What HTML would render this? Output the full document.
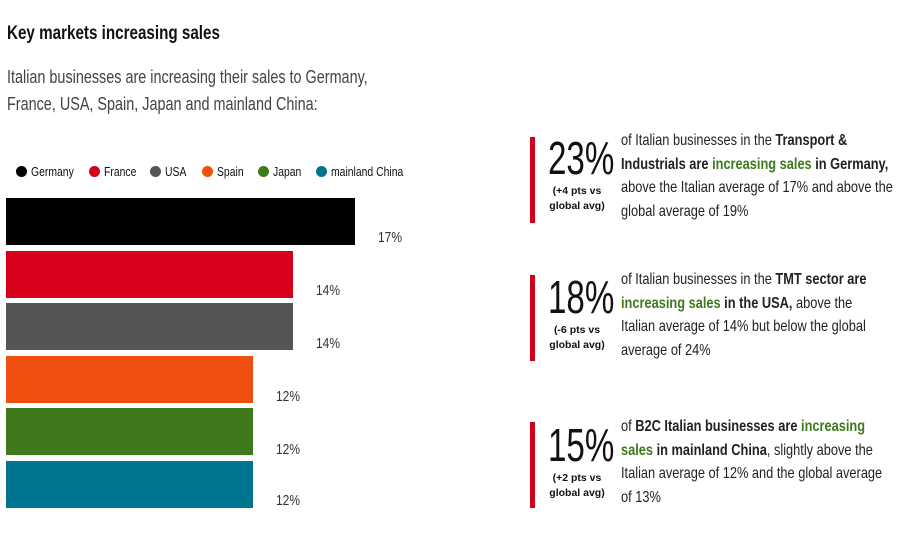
<!DOCTYPE html><html><head><style>
body{margin:0;width:900px;height:540px;background:#fff;font-family:"Liberation Sans",sans-serif;color:#111;position:relative;overflow:hidden}
.a{position:absolute;white-space:nowrap;transform:scaleX(0.8);transform-origin:0 0}
.bar{position:absolute;left:6px;height:47px}
.lab{position:absolute;font-size:15px;color:#333;transform:scaleX(0.8);transform-origin:0 0}
.dot{position:absolute;top:166px;width:11px;height:11px;border-radius:50%}
.lt{position:absolute;top:164px;font-size:13px;white-space:nowrap;transform:scaleX(0.8);transform-origin:0 0}
.rb{position:absolute;left:530px;width:5px;height:86px;background:#d0021b}
.big{position:absolute;left:548px;font-size:46px;line-height:46px;transform:scaleX(0.72);transform-origin:0 0;white-space:nowrap}
.sm{position:absolute;left:547px;width:60px;text-align:center;font-size:10.5px;font-weight:bold;line-height:15px}
.tx{position:absolute;left:621px;font-size:16px;line-height:23.5px;color:#222;white-space:nowrap;transform:scaleX(0.8);transform-origin:0 0}
.g{color:#3e7a1c;font-weight:bold}
</style></head><body>
<div class="a" style="left:7px;top:23px;font-size:19px;font-weight:bold">Key markets increasing sales</div>
<div class="a" style="left:7px;top:64px;font-size:18px;line-height:27px;color:#444">Italian businesses are increasing their sales to Germany,<br>France, USA, Spain, Japan and mainland China:</div>
<div class="dot" style="left:16px;background:#000"></div><div class="lt" style="left:31px">Germany</div>
<div class="dot" style="left:89px;background:#d0021b"></div><div class="lt" style="left:104px">France</div>
<div class="dot" style="left:150px;background:#555"></div><div class="lt" style="left:165px">USA</div>
<div class="dot" style="left:202px;background:#f0510e"></div><div class="lt" style="left:217px">Spain</div>
<div class="dot" style="left:258px;background:#3e7a1c"></div><div class="lt" style="left:273px">Japan</div>
<div class="dot" style="left:316px;background:#00758f"></div><div class="lt" style="left:331px">mainland China</div>
<div class="bar" style="top:198px;width:349px;background:#000"></div>
<div class="bar" style="top:251px;width:287px;background:#d8001a"></div>
<div class="bar" style="top:303px;width:287px;background:#555"></div>
<div class="bar" style="top:356px;width:247px;background:#ef500f"></div>
<div class="bar" style="top:408px;width:247px;background:#3e7a1c"></div>
<div class="bar" style="top:461px;width:247px;background:#00758f"></div>
<div class="lab" style="left:378px;top:229px">17%</div>
<div class="lab" style="left:316px;top:282px">14%</div>
<div class="lab" style="left:316px;top:335px">14%</div>
<div class="lab" style="left:276px;top:388px">12%</div>
<div class="lab" style="left:276px;top:441px">12%</div>
<div class="lab" style="left:276px;top:492px">12%</div>

<div class="rb" style="top:137px"></div>
<div class="big" style="top:135px">23%</div>
<div class="sm" style="top:184px">(+4 pts vs<br>global avg)</div>
<div class="tx" style="top:129px">of Italian businesses in the <b>Transport &amp;</b><br><b>Industrials are</b> <span class="g">increasing sales</span> <b>in Germany,</b><br>above the Italian average of 17% and above the<br>global average of 19%</div>

<div class="rb" style="top:275px"></div>
<div class="big" style="top:274px">18%</div>
<div class="sm" style="top:323px">(-6 pts vs<br>global avg)</div>
<div class="tx" style="top:268px">of Italian businesses in the <b>TMT sector are</b><br><span class="g">increasing sales</span> <b>in the USA,</b> above the<br>Italian average of 14% but below the global<br>average of 24%</div>

<div class="rb" style="top:422px"></div>
<div class="big" style="top:422px">15%</div>
<div class="sm" style="top:471px">(+2 pts vs<br>global avg)</div>
<div class="tx" style="top:415px">of <b>B2C Italian businesses are</b> <span class="g">increasing</span><br><span class="g">sales</span> <b>in mainland China</b>, slightly above the<br>Italian average of 12% and the global average<br>of 13%</div>
</body></html>
